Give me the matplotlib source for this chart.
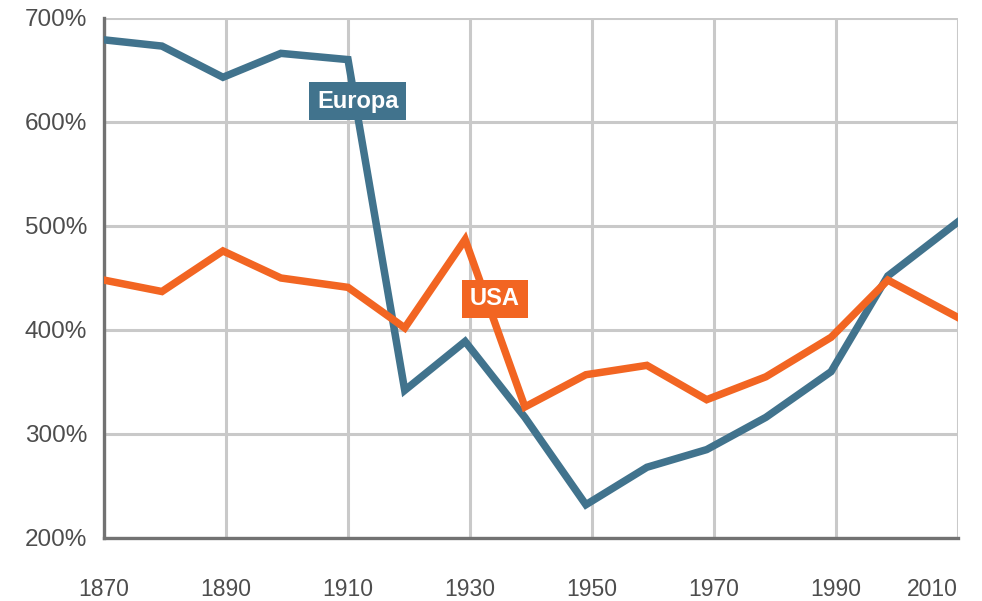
import matplotlib
matplotlib.use("Agg")
import matplotlib.pyplot as plt

# Jahreswerte
jahre = [1870, 1879.5, 1889.5, 1899, 1910, 1919.3, 1929.2, 1939, 1949,
         1959, 1968.8, 1978.5, 1989.2, 1998.5, 2010]
europa = [679, 673, 643, 666, 660, 342, 389, 316, 232,
          268, 285, 316, 360, 452, 504]
usa = [448, 437, 476, 450, 441, 402, 487, 326, 357,
       366, 333, 355, 393, 448, 412]

x_ticks = [1870, 1890, 1910, 1930, 1950, 1970, 1990, 2010]
y_ticks = [200, 300, 400, 500, 600, 700]

col_eu = "#41738d"
col_us = "#f26522"
grid_col = "#c9c9c9"
axis_col = "#727272"

plt.rcParams['font.family'] = ['Liberation Sans', 'DejaVu Sans']

fig = plt.figure(figsize=(9.82, 6.01), dpi=100)
ax = fig.add_axes([104 / 982, 63 / 601, 854 / 982, 520 / 601])

ax.plot(jahre, europa, color=col_eu, lw=5.4, solid_joinstyle='miter', zorder=3)
ax.plot(jahre, usa, color=col_us, lw=5.4, solid_joinstyle='miter', zorder=3)

ax.set_xlim(1870, 2010)
ax.set_ylim(200, 700)
ax.set_xticks(x_ticks)
ax.set_yticks(y_ticks)
ax.set_yticklabels([f"{v}%" for v in y_ticks])
ax.set_xticklabels([str(v) for v in x_ticks])
ax.get_xticklabels()[-1].set_ha('right')

ax.tick_params(axis='both', length=0, labelcolor="#4d4d4d")
ax.tick_params(axis='y', pad=12, labelsize=17.5)
ax.tick_params(axis='x', pad=29, labelsize=16.5)

ax.grid(True, color=grid_col, lw=2.2, zorder=0)
ax.set_axisbelow(True)
for s in ['top', 'right']:
    ax.spines[s].set_visible(False)
for s in ['left', 'bottom']:
    ax.spines[s].set_color(axis_col)
    ax.spines[s].set_linewidth(2.4)
    ax.spines[s].set_zorder(2)

ax.text(1911.6, 620, "Europa", color="white", fontsize=17, fontweight='bold',
        ha='center', va='center', zorder=5,
        bbox=dict(boxstyle='square,pad=0.33', fc=col_eu, ec='none'))
ax.text(1934.1, 430, "USA", color="white", fontsize=17, fontweight='bold',
        ha='center', va='center', zorder=5,
        bbox=dict(boxstyle='square,pad=0.33', fc=col_us, ec='none'))

fig.savefig("out.png", dpi=100)
